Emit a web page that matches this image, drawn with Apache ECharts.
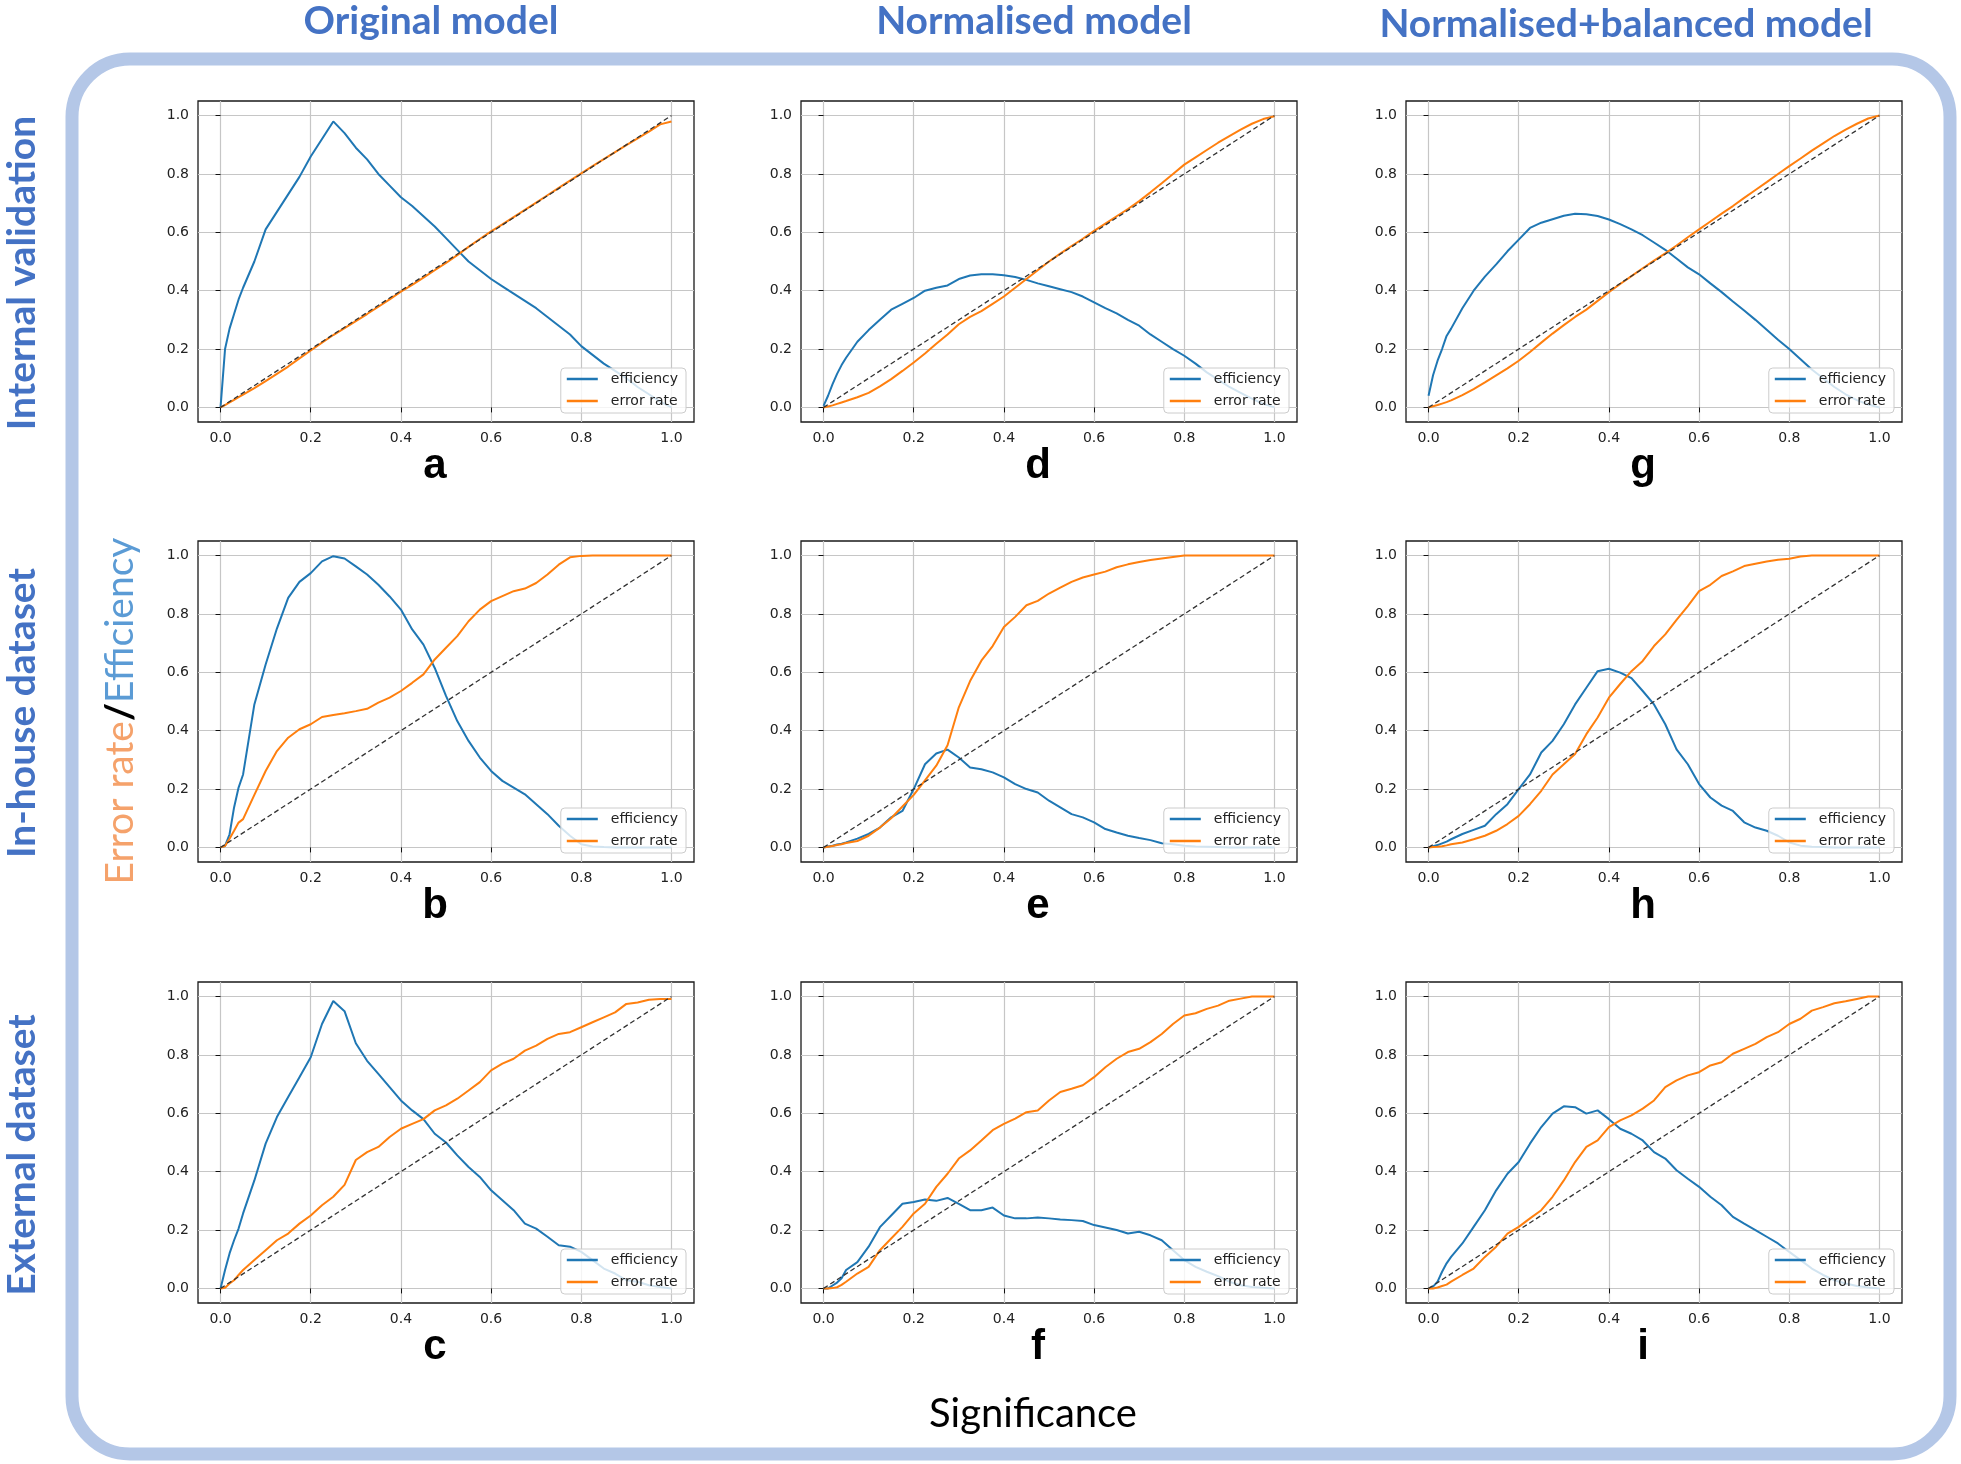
<!DOCTYPE html>
<html><head><meta charset="utf-8">
<script src="https://cdn.jsdelivr.net/npm/echarts@6/dist/echarts.min.js"></script>
<style>html,body{margin:0;padding:0;background:#fff}#c{width:1961px;height:1464px}</style>
</head><body><div id="c"></div>
<script>
// ---------------- data ----------------
const SIG = [0, 0.01, 0.02, 0.03, 0.04, 0.05, 0.075, 0.1, 0.125, 0.15, 0.175, 0.2, 0.225, 0.25, 0.275, 0.3, 0.325, 0.35, 0.375, 0.4, 0.425, 0.45, 0.475, 0.5, 0.525, 0.55, 0.575, 0.6, 0.625, 0.65, 0.675, 0.7, 0.725, 0.75, 0.775, 0.8, 0.825, 0.85, 0.875, 0.9, 0.925, 0.95, 0.975, 1.0];
const TICKS = [0, 0.2, 0.4, 0.6, 0.8, 1.0];
const DIAG_X = [0, 1];
const DIAG_Y = [0, 1];

const EFF_A = [0, 0.2, 0.27, 0.32, 0.37, 0.41, 0.50, 0.61, 0.67, 0.73, 0.79, 0.86, 0.92, 0.98, 0.94, 0.89, 0.85, 0.80, 0.76, 0.72, 0.69, 0.655, 0.62, 0.58, 0.54, 0.50, 0.47, 0.44, 0.415, 0.39, 0.365, 0.34, 0.31, 0.28, 0.25, 0.21, 0.18, 0.15, 0.125, 0.10, 0.07, 0.045, 0.02, 0.0];
const ERR_A = [0, 0.008, 0.017, 0.026, 0.035, 0.044, 0.066, 0.09, 0.115, 0.14, 0.168, 0.195, 0.222, 0.248, 0.272, 0.296, 0.32, 0.345, 0.37, 0.397, 0.42, 0.445, 0.47, 0.495, 0.522, 0.55, 0.577, 0.603, 0.627, 0.652, 0.677, 0.702, 0.727, 0.752, 0.777, 0.802, 0.827, 0.851, 0.875, 0.899, 0.922, 0.945, 0.97, 0.98];

const EFF_B = [0, 0.005, 0.045, 0.137, 0.205, 0.25, 0.49, 0.627, 0.75, 0.855, 0.91, 0.94, 0.98, 0.998, 0.99, 0.963, 0.935, 0.90, 0.86, 0.815, 0.747, 0.695, 0.615, 0.519, 0.433, 0.365, 0.308, 0.262, 0.228, 0.205, 0.182, 0.148, 0.114, 0.074, 0.04, 0.011, 0.003, 0.001, 0, 0, 0, 0, 0, 0];
const ERR_B = [0, 0.005, 0.03, 0.057, 0.085, 0.097, 0.18, 0.262, 0.33, 0.376, 0.405, 0.422, 0.447, 0.454, 0.46, 0.467, 0.475, 0.496, 0.513, 0.536, 0.564, 0.593, 0.644, 0.684, 0.724, 0.775, 0.815, 0.844, 0.861, 0.878, 0.887, 0.906, 0.935, 0.969, 0.994, 0.999, 1, 1, 1, 1, 1, 1, 1, 1];

const EFF_C = [0, 0.063, 0.12, 0.165, 0.205, 0.257, 0.37, 0.496, 0.587, 0.656, 0.724, 0.792, 0.906, 0.985, 0.95, 0.84, 0.78, 0.735, 0.69, 0.644, 0.61, 0.58, 0.53, 0.50, 0.456, 0.416, 0.382, 0.336, 0.302, 0.268, 0.222, 0.205, 0.177, 0.148, 0.143, 0.125, 0.097, 0.068, 0.051, 0.028, 0.023, 0.011, 0.005, 0];
const ERR_C = [0, 0.002, 0.017, 0.028, 0.046, 0.063, 0.097, 0.131, 0.165, 0.188, 0.222, 0.25, 0.285, 0.314, 0.355, 0.44, 0.467, 0.485, 0.519, 0.547, 0.564, 0.58, 0.61, 0.627, 0.65, 0.678, 0.707, 0.747, 0.77, 0.787, 0.815, 0.832, 0.855, 0.872, 0.878, 0.895, 0.912, 0.929, 0.946, 0.975, 0.98, 0.989, 0.992, 0.992];

const EFF_D = [0.005, 0.04, 0.08, 0.115, 0.145, 0.17, 0.225, 0.265, 0.30, 0.335, 0.355, 0.375, 0.40, 0.41, 0.418, 0.44, 0.452, 0.456, 0.456, 0.453, 0.447, 0.437, 0.425, 0.415, 0.405, 0.395, 0.38, 0.36, 0.34, 0.322, 0.30, 0.28, 0.25, 0.225, 0.20, 0.177, 0.15, 0.12, 0.095, 0.07, 0.05, 0.03, 0.012, 0.0];
const ERR_D = [0, 0.003, 0.007, 0.012, 0.017, 0.022, 0.035, 0.05, 0.072, 0.097, 0.125, 0.154, 0.185, 0.218, 0.25, 0.285, 0.31, 0.33, 0.355, 0.38, 0.41, 0.44, 0.47, 0.50, 0.527, 0.553, 0.578, 0.605, 0.63, 0.655, 0.68, 0.707, 0.737, 0.768, 0.80, 0.832, 0.857, 0.882, 0.907, 0.93, 0.952, 0.972, 0.988, 0.998];

const EFF_E = [0, 0.003, 0.006, 0.01, 0.013, 0.017, 0.03, 0.046, 0.068, 0.103, 0.125, 0.2, 0.285, 0.322, 0.335, 0.308, 0.274, 0.268, 0.257, 0.24, 0.217, 0.20, 0.188, 0.16, 0.137, 0.114, 0.103, 0.086, 0.063, 0.051, 0.04, 0.032, 0.025, 0.014, 0.011, 0.006, 0.003, 0.002, 0.001, 0, 0, 0, 0, 0];
const ERR_E = [0, 0.002, 0.005, 0.008, 0.011, 0.015, 0.022, 0.04, 0.068, 0.1, 0.14, 0.18, 0.23, 0.28, 0.35, 0.48, 0.57, 0.64, 0.69, 0.755, 0.79, 0.83, 0.845, 0.87, 0.89, 0.91, 0.925, 0.935, 0.945, 0.96, 0.97, 0.978, 0.985, 0.99, 0.995, 1, 1, 1, 1, 1, 1, 1, 1, 1];

const EFF_F = [0, 0, 0.01, 0.02, 0.035, 0.063, 0.09, 0.143, 0.21, 0.25, 0.29, 0.296, 0.305, 0.30, 0.31, 0.29, 0.268, 0.268, 0.277, 0.25, 0.24, 0.24, 0.243, 0.24, 0.236, 0.234, 0.231, 0.217, 0.209, 0.20, 0.188, 0.194, 0.182, 0.165, 0.131, 0.097, 0.074, 0.057, 0.042, 0.023, 0.011, 0.005, 0.002, 0];
const ERR_F = [0, 0, 0.001, 0.004, 0.012, 0.023, 0.051, 0.074, 0.131, 0.171, 0.211, 0.257, 0.29, 0.348, 0.393, 0.445, 0.473, 0.507, 0.542, 0.564, 0.582, 0.604, 0.61, 0.644, 0.673, 0.684, 0.696, 0.724, 0.758, 0.787, 0.81, 0.821, 0.844, 0.872, 0.906, 0.935, 0.943, 0.958, 0.969, 0.986, 0.993, 1, 1, 1];

const EFF_G = [0.04, 0.11, 0.16, 0.20, 0.245, 0.27, 0.34, 0.40, 0.448, 0.49, 0.535, 0.575, 0.615, 0.633, 0.645, 0.657, 0.664, 0.662, 0.656, 0.644, 0.628, 0.61, 0.59, 0.565, 0.54, 0.51, 0.48, 0.456, 0.425, 0.395, 0.363, 0.332, 0.30, 0.266, 0.232, 0.20, 0.165, 0.13, 0.10, 0.07, 0.045, 0.025, 0.01, 0.0];
const ERR_G = [0, 0.004, 0.008, 0.013, 0.018, 0.024, 0.042, 0.063, 0.086, 0.11, 0.134, 0.16, 0.19, 0.222, 0.253, 0.282, 0.31, 0.335, 0.365, 0.395, 0.423, 0.45, 0.477, 0.503, 0.528, 0.555, 0.583, 0.61, 0.637, 0.664, 0.69, 0.718, 0.745, 0.772, 0.80, 0.827, 0.853, 0.88, 0.905, 0.93, 0.952, 0.972, 0.99, 1.0];

const EFF_H = [0, 0.004, 0.008, 0.014, 0.02, 0.028, 0.046, 0.06, 0.074, 0.114, 0.148, 0.2, 0.25, 0.325, 0.365, 0.422, 0.49, 0.547, 0.604, 0.612, 0.599, 0.58, 0.536, 0.49, 0.422, 0.336, 0.285, 0.217, 0.171, 0.143, 0.125, 0.086, 0.068, 0.057, 0.04, 0.017, 0.006, 0.002, 0.001, 0, 0, 0, 0, 0];
const ERR_H = [0, 0.001, 0.002, 0.004, 0.007, 0.011, 0.017, 0.028, 0.04, 0.057, 0.08, 0.108, 0.148, 0.194, 0.25, 0.285, 0.32, 0.388, 0.445, 0.513, 0.56, 0.604, 0.639, 0.69, 0.73, 0.78, 0.827, 0.878, 0.90, 0.93, 0.946, 0.964, 0.972, 0.98, 0.986, 0.989, 0.997, 1, 1, 1, 1, 1, 1, 1];

const EFF_I = [0, 0.006, 0.023, 0.057, 0.086, 0.108, 0.154, 0.211, 0.268, 0.336, 0.393, 0.433, 0.496, 0.553, 0.599, 0.624, 0.621, 0.599, 0.61, 0.58, 0.547, 0.53, 0.507, 0.467, 0.445, 0.405, 0.376, 0.348, 0.314, 0.285, 0.245, 0.222, 0.20, 0.177, 0.154, 0.125, 0.097, 0.068, 0.046, 0.028, 0.017, 0.008, 0.003, 0];
const ERR_I = [0, 0, 0.003, 0.008, 0.013, 0.023, 0.046, 0.068, 0.108, 0.143, 0.188, 0.211, 0.24, 0.268, 0.314, 0.37, 0.433, 0.485, 0.507, 0.553, 0.576, 0.593, 0.616, 0.644, 0.69, 0.713, 0.73, 0.741, 0.764, 0.775, 0.804, 0.821, 0.838, 0.861, 0.878, 0.906, 0.924, 0.952, 0.964, 0.977, 0.984, 0.992, 1, 1];

const COL_TITLES = ['Original model', 'Normalised model', 'Normalised+balanced model'];
const ROW_TITLES = ['Internal validation', 'In-house dataset', 'External dataset'];
const SERIES_NAMES = ['efficiency', 'error rate'];
// panels[row][col]
const PANELS = [
  [{ letter: 'a', eff: EFF_A, err: ERR_A }, { letter: 'd', eff: EFF_D, err: ERR_D }, { letter: 'g', eff: EFF_G, err: ERR_G }],
  [{ letter: 'b', eff: EFF_B, err: ERR_B }, { letter: 'e', eff: EFF_E, err: ERR_E }, { letter: 'h', eff: EFF_H, err: ERR_H }],
  [{ letter: 'c', eff: EFF_C, err: ERR_C }, { letter: 'f', eff: EFF_F, err: ERR_F }, { letter: 'i', eff: EFF_I, err: ERR_I }]
];

// ---------------- layout / style ----------------
const W = 1961, H = 1464;
const COL_LEFT = [198, 801, 1406];
const ROW_TOP = [101, 541, 982];
const GW = 496, GH = 321;
const BLUE = '#1f77b4', ORANGE = '#ff7f0e';
const TITLE_BLUE = '#4472C4';
const TICK_FONT = 'DejaVu Sans';

const grids = [], xAxes = [], yAxes = [], series = [], legends = [], graphics = [];

function axisCommon(gi) {
  return {
    type: 'value', gridIndex: gi, min: -0.05, max: 1.05,
    axisLine: { show: false },
    axisTick: { show: true, length: 5, lineStyle: { color: '#111', width: 1 }, customValues: TICKS },
    axisLabel: { customValues: TICKS, formatter: v => v.toFixed(1), fontFamily: TICK_FONT, fontSize: 14, color: '#222', margin: 9 },
    splitLine: { show: true, lineStyle: { color: '#c6c6c6', width: 1.2 } }
  };
}

let gi = 0;
for (let r = 0; r < 3; r++) {
  for (let c = 0; c < 3; c++) {
    const p = PANELS[r][c];
    const left = COL_LEFT[c], top = ROW_TOP[r];
    grids.push({ left, top, width: GW, height: GH, show: true, borderColor: '#1a1a1a', borderWidth: 1.3, backgroundColor: '#fff', containLabel: false });
    xAxes.push(axisCommon(gi));
    yAxes.push(axisCommon(gi));
    series.push({
      type: 'line', name: SERIES_NAMES[0], xAxisIndex: gi, yAxisIndex: gi,
      data: SIG.map((x, j) => [x, p.eff[j]]), showSymbol: false, symbol: 'none',
      color: BLUE, lineStyle: { color: BLUE, width: 2 }, silent: true, z: 2
    });
    series.push({
      type: 'line', name: SERIES_NAMES[1], xAxisIndex: gi, yAxisIndex: gi,
      data: SIG.map((x, j) => [x, p.err[j]]), showSymbol: false, symbol: 'none',
      color: ORANGE, lineStyle: { color: ORANGE, width: 2 }, silent: true, z: 3
    });
    series.push({
      type: 'line', name: 'ideal', xAxisIndex: gi, yAxisIndex: gi,
      data: DIAG_X.map((x, j) => [x, DIAG_Y[j]]), showSymbol: false, symbol: 'none',
      lineStyle: { color: '#333', width: 1.3, type: [5, 3] }, silent: true, z: 4
    });
    legends.push({
      data: SERIES_NAMES, orient: 'vertical', selectedMode: false,
      right: W - (left + GW) + 8, bottom: H - (top + GH) + 9,
      icon: 'rect', itemWidth: 31, itemHeight: 2.5, itemGap: 8,
      padding: [4, 8, 5, 6],
      backgroundColor: 'rgba(255,255,255,0.8)', borderColor: '#cccccc', borderWidth: 1, borderRadius: 4,
      textStyle: { fontFamily: TICK_FONT, fontSize: 14, color: '#222', padding: [0, 0, 0, 8] },
      z: 10
    });
    graphics.push({
      type: 'text', x: left + 237, y: top + GH + 44, silent: true,
      style: { text: p.letter, fill: '#000', fontFamily: 'Liberation Sans', fontWeight: 'bold', fontSize: 42, align: 'center', verticalAlign: 'middle', textAlign: 'center', textVerticalAlign: 'middle' }
    });
    gi++;
  }
}

// rounded frame
graphics.unshift({
  type: 'rect', silent: true, z: -10,
  shape: { x: 72, y: 59, width: 1878, height: 1395, r: 58 },
  style: { fill: 'none', stroke: '#B4C7E7', lineWidth: 13 }
});

const TITLE_X = [431, 1034, 1626];
const TITLE_Y = [21, 21, 24];
COL_TITLES.forEach((t, i) => graphics.push({
  type: 'text', x: TITLE_X[i], y: TITLE_Y[i], silent: true,
  style: { text: t, fill: TITLE_BLUE, fontFamily: 'Lato', fontWeight: 'bold', fontSize: 39, align: 'center', verticalAlign: 'middle', textAlign: 'center', textVerticalAlign: 'middle' }
}));

const ROW_Y = [273, 713, 1155];
ROW_TITLES.forEach((t, i) => graphics.push({
  type: 'text', x: 22, y: ROW_Y[i], rotation: Math.PI / 2, silent: true,
  style: { text: t, fill: TITLE_BLUE, fontFamily: 'Lato', fontWeight: 'bold', fontSize: 39, align: 'center', verticalAlign: 'middle', textAlign: 'center', textVerticalAlign: 'middle' }
}));

graphics.push({
  type: 'text', x: 120, y: 711, rotation: Math.PI / 2, silent: true,
  style: {
    text: '{o|Error rate}{s|/}{b|Efficiency}', align: 'center', verticalAlign: 'middle', textAlign: 'center', textVerticalAlign: 'middle',
    rich: {
      o: { fill: '#F5A26B', fontFamily: 'Lato', fontSize: 39 },
      s: { fill: '#000', fontFamily: 'Lato', fontWeight: 'bold', fontSize: 39 },
      b: { fill: '#5B9BD5', fontFamily: 'Lato', fontSize: 39 }
    }
  }
});

graphics.push({
  type: 'text', x: 1033, y: 1414, silent: true,
  style: { text: 'Significance', fill: '#000', fontFamily: 'Lato', fontSize: 40, align: 'center', verticalAlign: 'middle', textAlign: 'center', textVerticalAlign: 'middle' }
});

const chart = echarts.init(document.getElementById('c'), null, { renderer: 'canvas', width: W, height: H });
chart.setOption({
  animation: false,
  backgroundColor: '#fff',
  grid: grids, xAxis: xAxes, yAxis: yAxes, series, legend: legends,
  graphic: { elements: graphics }
});
</script>
</body></html>
